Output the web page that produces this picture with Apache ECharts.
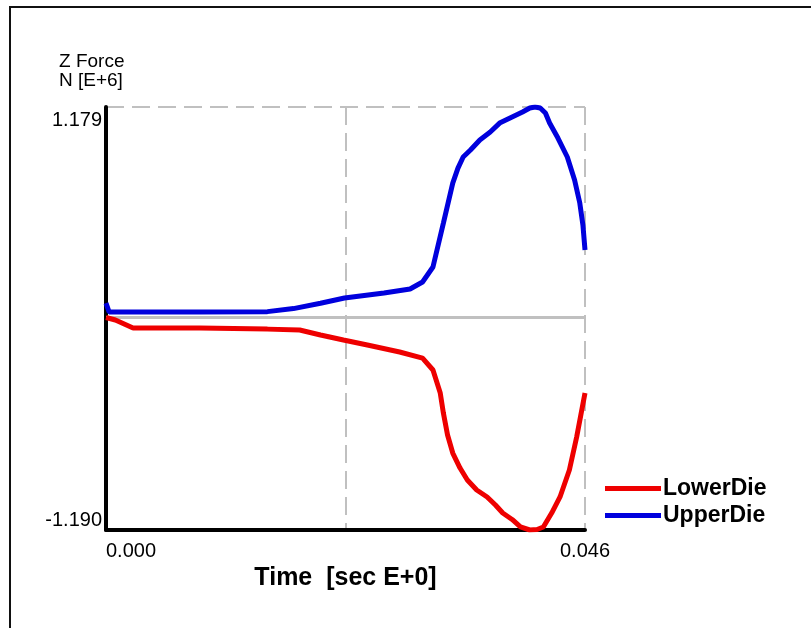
<!DOCTYPE html>
<html>
<head>
<meta charset="utf-8">
<script src="https://cdn.jsdelivr.net/npm/echarts@6/dist/echarts.min.js"></script>
<style>
    html, body { margin: 0; padding: 0; background: #fff; }
    #main { width: 811px; height: 628px; }
</style>
</head>
<body>
<div id="main"></div>
<script>
var timeUpper = [0, 0.0003, 0.002, 0.009, 0.0155, 0.018, 0.0206, 0.0229, 0.0267, 0.0292, 0.0304, 0.0314,
    0.0324, 0.0333, 0.0338, 0.0343, 0.0350, 0.0359, 0.0369, 0.0378, 0.0390, 0.0400, 0.0407, 0.0412,
    0.0417, 0.0422, 0.0426, 0.0434, 0.0443, 0.0450, 0.0455, 0.0458, 0.0460];
var upperDie = [0.081, 0.031, 0.031, 0.031, 0.033, 0.050, 0.080, 0.109, 0.137, 0.160, 0.199, 0.283,
    0.529, 0.753, 0.837, 0.899, 0.938, 0.994, 1.039, 1.089, 1.123, 1.151, 1.173, 1.179,
    1.173, 1.145, 1.089, 1.005, 0.899, 0.770, 0.641, 0.518, 0.378];

var timeLower = [0, 0.0009, 0.0026, 0.009, 0.0155, 0.0186, 0.0206, 0.0228, 0.0251, 0.0282, 0.0304, 0.0314,
    0.0321, 0.0324, 0.0328, 0.0333, 0.0340, 0.0347, 0.0356, 0.0366, 0.0374, 0.0381, 0.0390, 0.0398,
    0.0407, 0.0414, 0.0420, 0.0428, 0.0436, 0.0445, 0.0452, 0.0456, 0.0460];
var lowerDie = [0, -0.014, -0.059, -0.059, -0.065, -0.070, -0.098, -0.126, -0.154, -0.193, -0.227, -0.294,
    -0.423, -0.535, -0.658, -0.759, -0.843, -0.910, -0.966, -1.005, -1.050, -1.095, -1.131, -1.173,
    -1.190, -1.187, -1.173, -1.095, -1.005, -0.854, -0.669, -0.546, -0.423];

var yMin = -1.190;
var yMax = 1.179;
var xMin = 0;
var xMax = 0.046;

function pairs(xs, ys) {
    return xs.map(function (x, i) { return [x, ys[i]]; });
}

var myChart = echarts.init(document.getElementById('main'));

var option = {
    animation: false,
    backgroundColor: '#fff',
    title: {
        text: 'Z Force\nN [E+6]',
        left: 54,
        top: 47,
        textStyle: {
            fontFamily: 'Liberation Sans',
            fontSize: 19,
            fontWeight: 'normal',
            color: '#000',
            lineHeight: 19,
        },
    },
    graphic: [
        { type: 'line', shape: { x1: 9, y1: 7, x2: 811, y2: 7 }, style: { stroke: '#111', lineWidth: 2 } },
        { type: 'line', shape: { x1: 10, y1: 7, x2: 10, y2: 628 }, style: { stroke: '#111', lineWidth: 2 } },
    ],
    legend: {
        orient: 'vertical',
        left: 600,
        top: 470,
        itemWidth: 56,
        itemHeight: 5,
        itemGap: 0,
        icon: 'rect',
        textStyle: {
            fontFamily: 'Liberation Sans',
            fontSize: 23,
            fontWeight: 'bold',
            color: '#000',
            lineHeight: 27,
            padding: [0, 0, 0, -3],
        },
        data: ['LowerDie', 'UpperDie'],
    },
    grid: {
        left: 106,
        right: 226,
        top: 107,
        bottom: 98,
    },
    xAxis: {
        type: 'value',
        min: xMin,
        max: xMax,
        interval: 0.023,
        name: 'Time  [sec E+0]',
        nameLocation: 'middle',
        nameGap: 35,
        nameTextStyle: {
            fontFamily: 'Liberation Sans',
            fontSize: 25,
            fontWeight: 'bold',
            color: '#000',
        },
        axisLine: { onZero: false, lineStyle: { color: '#000', width: 4 } },
        axisTick: { show: false },
        axisLabel: {
            fontFamily: 'Liberation Sans',
            fontSize: 20,
            color: '#000',
            margin: 11,
            alignMinLabel: 'left',
            formatter: function (v) {
                if (Math.abs(v) < 1e-9) return '0.000';
                if (Math.abs(v - xMax) < 1e-9) return '0.046';
                return '';
            },
        },
        splitLine: { show: true, lineStyle: { color: '#c0c0c0', width: 2, type: [18, 8] } },
    },
    yAxis: {
        type: 'value',
        min: yMin,
        max: yMax,
        interval: yMax - yMin,
        axisLine: { show: true, lineStyle: { color: '#000', width: 4 } },
        axisTick: { show: false },
        axisLabel: {
            fontFamily: 'Liberation Sans',
            fontSize: 20,
            color: '#000',
            margin: 4,
            formatter: function (v) {
                if (v > 0) return '{top|' + yMax.toFixed(3) + '}';
                return '{bot|' + yMin.toFixed(3) + '}';
            },
            rich: {
                top: { fontFamily: 'Liberation Sans', fontSize: 20, color: '#000', padding: [26, 0, 0, 0] },
                bot: { fontFamily: 'Liberation Sans', fontSize: 20, color: '#000', padding: [0, 0, 20, 0] },
            },
        },
        splitLine: { show: true, lineStyle: { color: '#c0c0c0', width: 2, type: [18, 8] } },
    },
    series: [
        {
            name: 'LowerDie',
            type: 'line',
            data: pairs(timeLower, lowerDie),
            symbol: 'none',
            color: '#ee0000',
            lineStyle: { width: 5, color: '#ee0000' },
            z: 3,
            markLine: {
                silent: true,
                symbol: 'none',
                label: { show: false },
                lineStyle: { color: '#c0c0c0', width: 3, type: 'solid' },
                data: [{ yAxis: 0 }],
                z: 1,
            },
        },
        {
            name: 'UpperDie',
            type: 'line',
            data: pairs(timeUpper, upperDie),
            symbol: 'none',
            color: '#0000dd',
            lineStyle: { width: 5, color: '#0000dd' },
            z: 4,
        },
    ],
};

myChart.setOption(option);
</script>
</body>
</html>
